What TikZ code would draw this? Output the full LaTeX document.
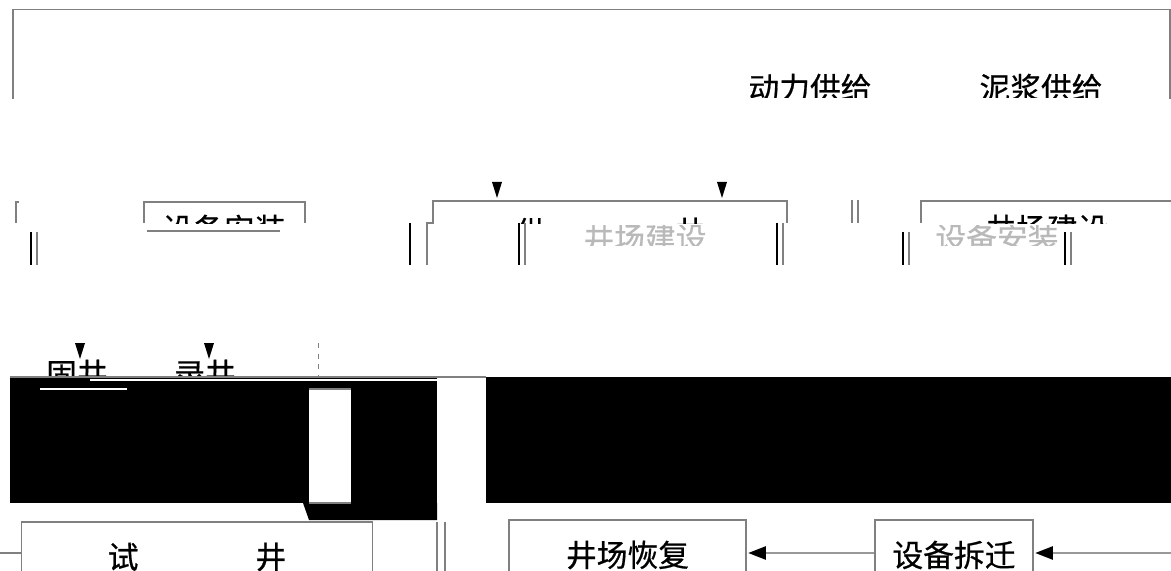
\documentclass[tikz,border=0pt]{standalone}
\usepackage{fontspec}
\newfontfamily\cjk[FakeBold=0.6]{Noto Sans CJK SC}
\usetikzlibrary{arrows.meta}

\begin{document}
\begin{tikzpicture}[x=0.02cm,y=-0.02cm,
    box/.style={draw=gray,line width=0.6pt},
    lbl/.style={font=\cjk\fontsize{17.5}{20}\selectfont,inner sep=0pt},
    stepbox/.style={box,lbl,minimum height=1.4cm},
    bar/.style={draw=black,line width=1.2pt},
    gbar/.style={draw=gray,line width=0.6pt},
    flow/.style={draw=gray!80,line width=1pt,shorten >=1pt,
                 -{Triangle[length=10pt,width=7.5pt,black]}}]

       %% 画布大小
       \useasboundingbox (0,0) rectangle (1171,571);

       %% 顶部大框
       \draw[box] (13,99) -- (13,9.5) -- (1170,9.5) -- (1170,99);
       \begin{scope}
         \clip (13,60) rectangle (1170,98);
         \node[lbl] (dongli) at (810,88) {动力供给};
         \node[lbl] (nijiang) at (1041,88) {泥浆供给};
       \end{scope}

       %% 向下的三角
       \foreach \px/\py in {497/182,722/182,80/343,209/343}
         \fill (\px-5,\py) -- (\px+5,\py) -- (\px,\py+16) -- cycle;

       %% 第二行
       \draw[box] (19,202) -- (16,202) -- (16,223);
       \draw[box] (144,223) -- (144,202) -- (305,202) -- (305,223);
       \draw[box] (427,265) -- (427,223) -- (433,223) -- (433,201) -- (787,201) -- (787,223);
       \draw[box] (921,223) -- (921,201) -- (1171,201);
       \begin{scope}
         \clip (0,195) rectangle (1171,224);
         \node[lbl] (anzhuang) at (224,229) {设备安装};
         \node[lbl] (gong) at (531,232) {供};
         \node[lbl] (jing) at (690,232) {井};
         \node[lbl] (jianshe) at (1047,229) {井场建设};
       \end{scope}
       \draw[gbar] (147,231) -- (280,231);
       \begin{scope}
         \clip (560,226) rectangle (1100,246);
         \node[lbl,gray!55] (jianshe2) at (645,238) {井场建设};
         \node[lbl,gray!55] (anzhuang2) at (997,238) {设备安装};
       \end{scope}
       \foreach \bx/\ya in {31/232,519/223,777/223,903/232,1065/232}{
         \draw[bar] (\bx,\ya) -- (\bx,265);
         \draw[gbar] (\bx+6,\ya) -- (\bx+6,265);
       }
       \draw[bar] (410,223) -- (410,265);
       \draw[gbar] (852,200) -- (852,223) (858,200) -- (858,223);

       %% 第三行 固井 录井
       \node[lbl] (gujing) at (77,374) {固井};
       \node[lbl] (lujing) at (205,374) {录井};
       \draw[gray,dashed] (318,343) -- (318,377);
       \fill (10,377) rectangle (437,503);
       \fill (303,503) -- (437,503) -- (437,520) -- (309,520) -- cycle;
       \fill[white] (309,389) rectangle (351,503);
       \draw[gbar] (309,389) -- (351,389) (309,503) -- (351,503);
       \fill (486,377) rectangle (1171,503);
       \draw[gbar] (10,377) -- (486,377);
       \draw[white,line width=0.8pt] (90,380) -- (437,380);
       \draw[white,line width=0.8pt] (40,389) -- (127,389);

       %% 底行
       \node[stepbox,minimum width=7.04cm] (shijing) at (197,557) {试\hspace{2.34cm}井};
       \node[stepbox,minimum width=4.74cm] (huifu) at (627.5,555) {井场恢复};
       \node[stepbox,minimum width=3.16cm] (chaiqian) at (954,555) {设备拆迁};
       \coordinate (rin) at (1171,553);
       \coordinate (lin) at (0,553);
       \draw[gbar] (lin) -- (shijing.west |- lin);
       \draw[gbar] (437,522) -- (437,571) (445,522) -- (445,571);
       \draw[flow] (rin) -- (chaiqian.east |- rin);
       \draw[flow] (chaiqian.west |- rin) -- (huifu.east |- rin);
\end{tikzpicture}
\end{document}
